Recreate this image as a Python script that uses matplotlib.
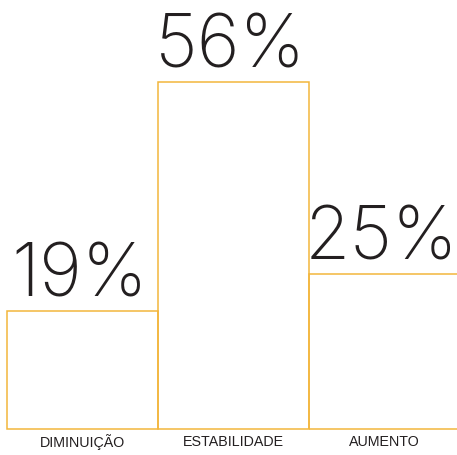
import matplotlib
matplotlib.use("Agg")
import matplotlib.pyplot as plt

categories = ["DIMINUIÇÃO", "ESTABILIDADE", "AUMENTO"]
values = [19, 56, 25]
labels = ["19%", "56%", "25%"]

EDGE = "#F3B63C"


def main():
    fig = plt.figure(figsize=(4.57, 4.55), dpi=100)
    ax = fig.add_axes([0, 0, 1, 1])
    x = list(range(len(categories)))
    ax.bar(x, values, width=1.0, facecolor="none", edgecolor=EDGE,
           linewidth=1.1)

    ax.set_xlim(-0.5464, 2.4801)
    ax.set_ylim(-4.19, 69.2)
    ax.axis("off")

    for xi, v, lab in zip(x, values, labels):
        ax.annotate(lab, (xi, v), xytext=(-2, 10.5), textcoords="offset points",
                    ha="center", va="baseline", fontsize=53,
                    family="Inter", fontweight="light", color="#231f20")

    for xi, cat in zip(x, categories):
        ax.text(xi, 0.0295, cat, transform=ax.get_xaxis_transform(),
                ha="center", va="center", fontsize=10.3,
                family="Liberation Sans", color="#231f20")

    fig.savefig("out.png", dpi=100)


if __name__ == "__main__":
    main()
